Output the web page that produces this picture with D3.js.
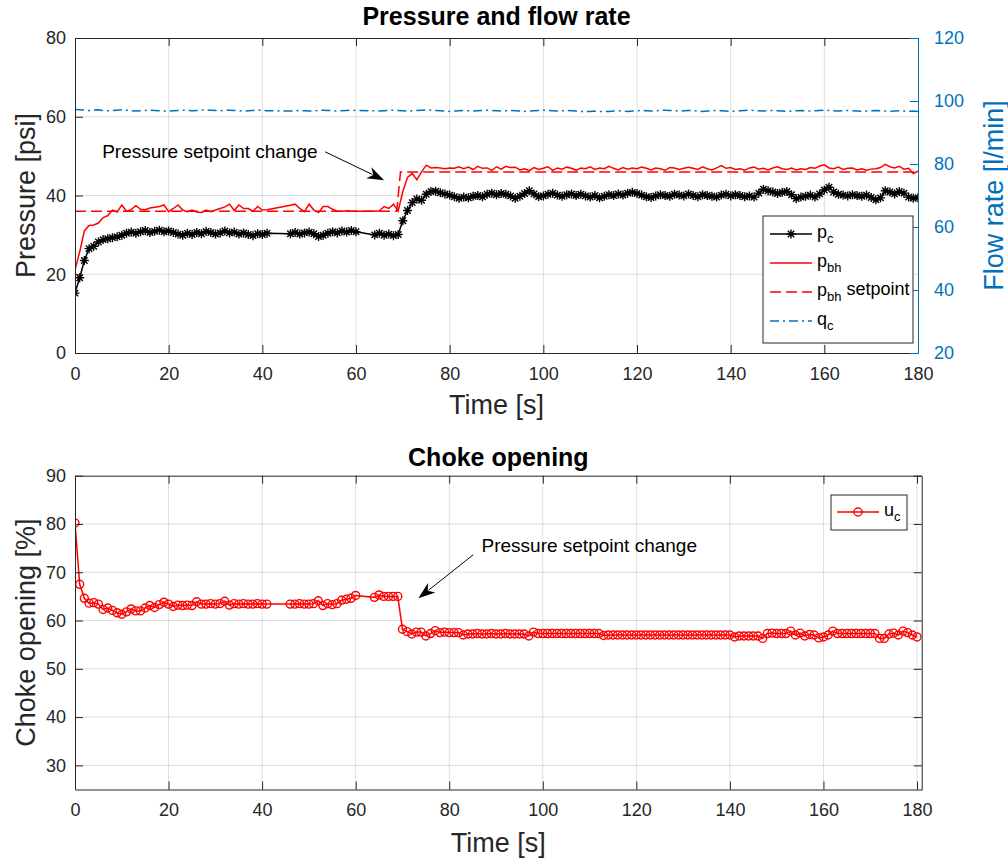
<!DOCTYPE html>
<html>
<head>
<meta charset="utf-8">
<script src="https://cdn.jsdelivr.net/npm/d3@7"></script>
<style>
  body { margin: 0; background: #fff; }
  text { font-family: "Liberation Sans", Arial, Helvetica, sans-serif; }
</style>
</head>
<body>
<div id="chart"></div>
<script>
// sample times [s] (logging has two short gaps)
const time = [
  0,1,2,3,4,5,6,7,8,9, 10,11,12,13,14,15,16,17,18,19, 20,21,22,23,24,25,26,27,28,29,
  30,31,32,33,34,35,36,37,38,39, 40,41,
  46,47,48,49,50,51,52,53,54,55, 56,57,58,59,60,
  64,65,66,67,68,69,70,71,72,73, 74,75,76,77,78,79,80,81,82,83,
  84,85,86,87,88,89,90,91,92,93, 94,95,96,97,98,99,100,101,102,103,
  104,105,106,107,108,109,110,111,112,113, 114,115,116,117,118,119,120,121,122,123,
  124,125,126,127,128,129,130,131,132,133, 134,135,136,137,138,139,140,141,142,143,
  144,145,146,147,148,149,150,151,152,153, 154,155,156,157,158,159,160,161,162,163,
  164,165,166,167,168,169,170,171,172,173, 174,175,176,177,178,179,180
];

// choke pressure p_c [psi]
const pc = [
  15.2,19.1,23.5,26.5,27.1,28.2,28.8,29.0,29.3,29.5, 29.9,30.4,30.7,30.4,30.8,31.1,30.6,30.9,31.2,30.8,
  31.0,30.6,30.2,29.9,30.4,30.1,30.6,30.3,30.9,30.6, 30.2,30.5,31.0,30.5,30.7,30.2,30.5,30.1,29.8,30.3,
  30.1,30.4,
  30.3,30.6,30.2,30.5,30.7,30.3,29.6,29.9,30.4,30.8, 30.5,31.0,30.7,31.1,30.8,
  30.0,30.4,29.9,30.2,29.8,30.1,33.6,36.2,38.2,39.1, 38.8,40.3,41.0,41.1,40.7,40.4,40.1,39.7,39.3,39.6,
  39.4,39.8,40.0,39.7,40.3,40.6,40.2,40.5,40.3,39.9, 39.3,39.8,40.5,41.2,40.4,39.7,39.9,40.3,40.6,40.1,
  39.8,40.2,40.4,40.0,40.3,39.9,39.6,40.0,39.4,39.8, 40.2,40.0,40.4,40.1,40.6,40.8,40.5,40.1,39.7,39.5,
  39.9,40.2,40.0,39.8,40.3,40.1,39.9,40.4,40.0,39.7, 40.2,40.0,39.8,39.6,40.1,40.3,39.9,40.2,40.0,39.7,
  39.9,39.6,40.6,41.6,41.2,40.9,40.5,40.8,41.0,40.2, 39.2,39.6,39.8,40.1,39.6,40.4,41.4,42.1,40.9,40.3,
  40.1,39.9,40.2,40.0,39.8,40.1,39.5,38.9,39.4,41.2, 40.9,40.4,41.0,40.6,39.6,39.3,39.4
];

// bottom-hole pressure p_bh [psi]
const pbh = [
  21.1,25.7,31.0,32.4,32.5,33.0,34.4,34.9,36.3,35.8, 37.6,36.0,36.4,37.4,36.5,36.4,36.8,37.0,37.2,37.6,
  35.9,36.7,37.6,36.3,35.9,36.3,35.8,35.7,36.3,35.9, 36.3,36.7,37.1,37.8,36.2,37.6,36.7,36.7,36.0,37.2,
  36.3,36.4,
  37.5,37.8,36.7,35.9,37.8,36.3,35.7,37.2,37.2,36.5, 36.0,36.0,36.1,36.0,36.0,
  36.0,36.1,37.2,36.7,37.8,36.0,41.0,44.6,45.6,44.0, 46.0,47.7,47.0,47.1,47.0,46.8,47.0,46.9,47.3,46.8,
  47.2,46.6,47.4,46.9,47.0,46.4,47.3,46.7,47.4,47.1, 47.2,46.5,46.8,46.3,47.1,46.6,46.9,47.3,46.4,47.0,
  46.7,47.2,46.9,46.4,47.0,46.8,47.3,46.6,47.0,46.8, 47.4,46.9,46.5,47.1,46.7,47.0,46.8,47.2,46.9,46.5,
  47.0,46.8,46.4,47.1,47.0,46.6,46.9,47.2,46.9,46.6, 47.3,46.8,46.5,47.0,47.6,46.9,47.1,46.6,46.8,46.4,
  47.0,47.2,46.7,46.9,46.5,47.0,47.3,46.8,46.6,47.0, 46.5,46.8,46.6,47.1,46.9,47.5,47.8,47.0,46.8,47.2,
  46.6,46.9,47.0,46.5,46.8,46.4,46.7,46.8,47.1,47.9, 47.3,47.0,47.4,46.7,46.9,45.6,46.2
];

// p_bh setpoint [psi]
const spTime  = [0, 68.7, 69.5, 180];
const spValue = [36, 36, 46, 46];

// flow rate q_c [l/min]
const qc = [
  97.3,97.2,97.1,97.0,97.1,97.2,97.0,96.9,97.0,97.1, 97.2,97.1,96.9,96.8,96.9,97.0,97.1,97.0,96.9,96.8,
  96.8,96.9,97.0,97.1,97.0,96.9,97.0,97.1,97.2,97.1, 97.0,96.9,97.0,97.1,97.0,96.9,96.8,96.9,97.0,97.1,
  97.0,96.9,
  96.8,96.9,97.0,96.9,96.8,96.9,97.0,97.1,97.0,96.9, 96.8,96.9,97.0,97.1,97.0,
  96.9,96.8,96.9,97.0,97.1,97.0,96.9,96.8,96.9,97.0, 97.1,97.2,97.1,97.0,96.9,96.8,96.7,96.8,96.9,97.0,
  96.9,96.8,96.9,97.0,97.1,97.0,96.9,96.8,96.9,97.0, 96.9,96.8,96.7,96.8,96.9,97.0,97.1,97.0,96.9,96.8,
  96.9,97.0,96.9,96.8,96.7,96.6,96.7,96.8,96.7,96.6, 96.7,96.8,96.9,96.8,96.7,96.8,96.9,97.0,96.9,96.8,
  96.9,97.0,97.1,97.0,96.9,96.8,96.9,97.0,96.9,96.8, 96.7,96.8,96.9,97.0,96.9,96.8,96.7,96.8,96.9,97.0,
  97.1,97.0,96.9,96.8,96.9,97.0,96.9,96.8,96.7,96.8, 96.9,97.0,96.9,96.8,96.9,97.0,97.1,97.0,96.9,96.8,
  96.9,97.0,96.9,96.8,96.7,96.8,96.9,97.0,96.9,96.8, 96.7,96.8,96.9,96.8,96.7,96.8,96.7
];

// choke opening u_c [%]
const uc = [
  80.2,67.5,64.6,63.6,63.7,63.4,62.3,62.6,62.1,61.6, 61.3,61.8,62.4,62.0,62.0,62.6,63.1,62.7,63.3,63.8,
  63.4,62.9,63.2,63.1,63.2,63.1,63.9,63.4,63.4,63.5, 63.4,63.5,64.0,63.2,63.5,63.4,63.5,63.4,63.4,63.5,
  63.4,63.4,
  63.4,63.4,63.5,63.4,63.4,63.5,64.1,63.1,63.5,63.3, 63.5,64.2,64.4,64.6,65.2,
  64.8,65.3,65.0,65.0,65.0,65.0,58.2,57.7,57.2,57.6, 57.6,56.8,57.3,57.9,57.5,57.6,57.5,57.5,57.5,57.0,
  57.2,57.2,57.3,57.2,57.2,57.3,57.2,57.2,57.3,57.2, 57.2,57.2,57.2,56.8,57.6,57.3,57.3,57.3,57.3,57.3,
  57.3,57.3,57.3,57.3,57.3,57.3,57.3,57.3,57.3,56.9, 57.0,57.0,57.0,57.0,57.0,57.0,57.0,57.0,57.0,57.0,
  57.0,57.0,57.0,57.0,57.0,57.0,57.0,57.0,57.0,57.0, 57.0,57.0,57.0,57.0,57.0,57.0,57.0,56.6,56.8,56.8,
  56.8,56.8,56.8,56.3,57.3,57.4,57.3,57.3,57.3,57.8, 57.0,57.4,56.8,57.1,57.0,56.4,56.6,57.0,57.8,57.3,
  57.3,57.3,57.3,57.3,57.3,57.3,57.3,57.3,56.3,56.3, 57.2,57.4,57.0,57.8,57.5,57.0,56.6
];

const xTicks      = [0, 20, 40, 60, 80, 100, 120, 140, 160, 180];
const pressTicks  = [0, 20, 40, 60, 80];
const flowTicks   = [20, 40, 60, 80, 100, 120];
const chokeTicks  = [30, 40, 50, 60, 70, 80, 90];

const W = 1008, H = 861;
const ink = '#262626', blue = '#0072BD', red = '#FF0000';
const tickFont = 18, labelFont = 27, titleFont = 25;

const svg = d3.select('#chart').append('svg')
  .attr('width', W).attr('height', H)
  .attr('viewBox', [0, 0, W, H]);
svg.append('rect').attr('width', W).attr('height', H).attr('fill', '#fff');
const defs = svg.append('defs');

/* ─── scales ───────────────────────────────────────────────── */
const P1 = { l: 75, r: 918, t: 38, b: 353 };
const P2 = { l: 75, r: 921.7, t: 475.7, b: 789.5 };

const x1 = d3.scaleLinear().domain([0, 180]).range([P1.l, P1.r]);
const yP = d3.scaleLinear().domain([0, 80]).range([P1.b, P1.t]);
const yQ = d3.scaleLinear().domain([20, 120]).range([P1.b, P1.t]);
const x2 = d3.scaleLinear().domain([0, 181]).range([P2.l, P2.r]);
const yU = d3.scaleLinear().domain([25, 90]).range([P2.b, P2.t]);

const asterisk = 'M-4.5,0L4.5,0M0,-4.5L0,4.5M-3.2,-3.2L3.2,3.2M-3.2,3.2L3.2,-3.2';

function clip(id, P) {
  defs.append('clipPath').attr('id', id)
    .append('rect').attr('x', P.l).attr('y', P.t)
    .attr('width', P.r - P.l).attr('height', P.b - P.t);
}
clip('clip1', P1);
clip('clip2', P2);

function grid(P, x, y, yt) {
  const g = svg.append('g').attr('stroke', ink).attr('stroke-opacity', 0.15).attr('stroke-width', 1);
  g.selectAll('.gx').data(xTicks.filter(d => x(d) > P.l + 1 && x(d) < P.r - 1)).join('line')
    .attr('x1', d => x(d)).attr('x2', d => x(d)).attr('y1', P.t).attr('y2', P.b);
  g.selectAll('.gy').data(yt.filter(d => y(d) > P.t + 1 && y(d) < P.b - 1)).join('line')
    .attr('y1', d => y(d)).attr('y2', d => y(d)).attr('x1', P.l).attr('x2', P.r);
}

function styleAxis(g, color) {
  g.attr('font-size', tickFont).attr('font-family', '"Liberation Sans", Arial, sans-serif');
  g.selectAll('path.domain').attr('stroke', color).attr('stroke-width', 1);
  g.selectAll('.tick line').attr('stroke', color).attr('stroke-width', 1);
  g.selectAll('.tick text').attr('fill', color);
}

function frame(P, x, y, yt, rightColor, yRight, ytRight) {
  styleAxis(svg.append('g').attr('transform', `translate(0,${P.b})`)
    .call(d3.axisBottom(x).tickValues(xTicks).tickSize(-8).tickSizeOuter(0).tickPadding(14).tickFormat(d3.format('d'))), ink);
  styleAxis(svg.append('g').attr('transform', `translate(0,${P.t})`)
    .call(d3.axisTop(x).tickValues(xTicks).tickSize(-8).tickSizeOuter(0).tickFormat('')), ink);
  styleAxis(svg.append('g').attr('transform', `translate(${P.l},0)`)
    .call(d3.axisLeft(y).tickValues(yt).tickSize(-8).tickSizeOuter(0).tickPadding(9).tickFormat(d3.format('d'))), ink);
  if (yRight) {
    styleAxis(svg.append('g').attr('transform', `translate(${P.r},0)`)
      .call(d3.axisRight(yRight).tickValues(ytRight).tickSize(-8).tickSizeOuter(0).tickPadding(16).tickFormat(d3.format('d'))), rightColor);
  } else {
    styleAxis(svg.append('g').attr('transform', `translate(${P.r},0)`)
      .call(d3.axisRight(y).tickValues(yt).tickSize(-8).tickSizeOuter(0).tickFormat('')), rightColor);
  }
}

function subText(sel, parts) {
  parts.forEach(([txt, sub], i) => {
    const t = sel.append('tspan').text(txt);
    if (sub) t.attr('font-size', '0.72em').attr('dy', '0.4em');
    else if (i > 0) t.attr('dy', '-0.3em');
  });
}

/* ─── top panel: pressures & flow ─────────────────────────── */
grid(P1, x1, yP, pressTicks);

const topG = svg.append('g').attr('clip-path', 'url(#clip1)');
const rowsTop = d3.range(time.length).map(i => ({ t: time[i], pc: pc[i], pbh: pbh[i], qc: qc[i] }));

topG.append('path').datum(rowsTop)
  .attr('fill', 'none').attr('stroke', blue).attr('stroke-width', 1.5)
  .attr('stroke-dasharray', '9,4,2,4')
  .attr('d', d3.line().x(d => x1(d.t)).y(d => yQ(d.qc)));

topG.append('path').datum(d3.zip(spTime, spValue))
  .attr('fill', 'none').attr('stroke', red).attr('stroke-width', 1.5)
  .attr('stroke-dasharray', '11,5')
  .attr('d', d3.line().x(d => x1(d[0])).y(d => yP(d[1])));

topG.append('path').datum(rowsTop)
  .attr('fill', 'none').attr('stroke', red).attr('stroke-width', 1.5)
  .attr('d', d3.line().x(d => x1(d.t)).y(d => yP(d.pbh)));

topG.append('path').datum(rowsTop)
  .attr('fill', 'none').attr('stroke', '#000').attr('stroke-width', 1.5)
  .attr('d', d3.line().x(d => x1(d.t)).y(d => yP(d.pc)));

topG.selectAll('path.star').data(rowsTop).join('path')
  .attr('class', 'star')
  .attr('transform', d => `translate(${x1(d.t)},${yP(d.pc)})`)
  .attr('d', asterisk).attr('stroke', '#000').attr('stroke-width', 1.4).attr('fill', 'none');

frame(P1, x1, yP, pressTicks, blue, yQ, flowTicks);

svg.append('text').attr('x', (P1.l + P1.r) / 2).attr('y', 25)
  .attr('text-anchor', 'middle').attr('font-weight', 'bold').attr('font-size', titleFont)
  .attr('fill', '#000').text('Pressure and flow rate');
svg.append('text').attr('x', (P1.l + P1.r) / 2).attr('y', 414)
  .attr('text-anchor', 'middle').attr('font-size', labelFont).attr('fill', ink).text('Time [s]');
svg.append('text').attr('transform', `translate(35,${(P1.t + P1.b) / 2}) rotate(-90)`)
  .attr('text-anchor', 'middle').attr('font-size', labelFont).attr('fill', ink).text('Pressure [psi]');
svg.append('text').attr('transform', `translate(1003,${(P1.t + P1.b) / 2}) rotate(-90)`)
  .attr('text-anchor', 'middle').attr('font-size', labelFont).attr('fill', blue).text('Flow rate [l/min]');

// annotation (data coordinates)
const note1 = { text: [5.8, 51.1], from: [53.4, 51.1], to: [66.0, 43.9] };
function arrow(ax, ay, n) {
  const x0 = ax(n.from[0]), y0 = ay(n.from[1]), x9 = ax(n.to[0]), y9 = ay(n.to[1]);
  const a = Math.atan2(y9 - y0, x9 - x0), L = 17, Wd = 6;
  const bx = x9 - L * Math.cos(a), by = y9 - L * Math.sin(a);
  svg.append('line').attr('x1', x0).attr('y1', y0).attr('x2', bx + 4 * Math.cos(a)).attr('y2', by + 4 * Math.sin(a))
    .attr('stroke', '#000').attr('stroke-width', 1);
  const nx = -Math.sin(a), ny = Math.cos(a);
  const mx = x9 - (L - 5) * Math.cos(a), my = y9 - (L - 5) * Math.sin(a);
  svg.append('path')
    .attr('d', `M${x9},${y9}L${bx + Wd * nx},${by + Wd * ny}L${mx},${my}L${bx - Wd * nx},${by - Wd * ny}Z`)
    .attr('fill', '#000');
  svg.append('text').attr('x', ax(n.text[0])).attr('y', ay(n.text[1]))
    .attr('dy', '0.35em').attr('font-size', 19).attr('fill', '#000').text('Pressure setpoint change');
}
arrow(x1, yP, note1);

// legend (top)
const lg1 = svg.append('g').attr('transform', 'translate(763,216)');
lg1.append('rect').attr('width', 150).attr('height', 127)
  .attr('fill', '#fff').attr('stroke', ink).attr('stroke-width', 1);
const legendTop = [
  { parts: [['p'], ['c', true]], stroke: '#000', dash: null, marker: true },
  { parts: [['p'], ['bh', true]], stroke: red, dash: null },
  { parts: [['p'], ['bh', true], [' setpoint']], stroke: red, dash: '11,5' },
  { parts: [['q'], ['c', true]], stroke: blue, dash: '9,4,2,4' }
];
legendTop.forEach((e, i) => {
  const yy = 18 + i * 29;
  lg1.append('line').attr('x1', 7).attr('x2', 49).attr('y1', yy).attr('y2', yy)
    .attr('stroke', e.stroke).attr('stroke-width', 1.5).attr('stroke-dasharray', e.dash);
  if (e.marker) lg1.append('path').attr('transform', `translate(28,${yy})`).attr('d', asterisk)
    .attr('stroke', '#000').attr('stroke-width', 1.4);
  const t = lg1.append('text').attr('x', 54).attr('y', yy).attr('dy', '0.2em')
    .attr('font-size', 18).attr('fill', '#000');
  subText(t, e.parts);
});

/* ─── bottom panel: choke opening ─────────────────────────── */
grid(P2, x2, yU, chokeTicks);

const botG = svg.append('g').attr('clip-path', 'url(#clip2)');
const rowsBot = d3.zip(time, uc);
botG.append('path').datum(rowsBot)
  .attr('fill', 'none').attr('stroke', red).attr('stroke-width', 1.5)
  .attr('d', d3.line().x(d => x2(d[0])).y(d => yU(d[1])));
botG.selectAll('circle').data(rowsBot).join('circle')
  .attr('cx', d => x2(d[0])).attr('cy', d => yU(d[1])).attr('r', 4)
  .attr('fill', 'none').attr('stroke', red).attr('stroke-width', 1.4);

frame(P2, x2, yU, chokeTicks, ink, null, null);

svg.append('text').attr('x', (P2.l + P2.r) / 2).attr('y', 466)
  .attr('text-anchor', 'middle').attr('font-weight', 'bold').attr('font-size', titleFont)
  .attr('fill', '#000').text('Choke opening');
svg.append('text').attr('x', (P2.l + P2.r) / 2).attr('y', 852)
  .attr('text-anchor', 'middle').attr('font-size', labelFont).attr('fill', ink).text('Time [s]');
svg.append('text').attr('transform', `translate(35,${(P2.t + P2.b) / 2}) rotate(-90)`)
  .attr('text-anchor', 'middle').attr('font-size', labelFont).attr('fill', ink).text('Choke opening [%]');

const note2 = { text: [86.9, 75.65], from: [85.1, 73.6], to: [73.4, 64.6] };
arrow(x2, yU, note2);

// legend (bottom)
const lg2 = svg.append('g').attr('transform', 'translate(831,495)');
lg2.append('rect').attr('width', 76).attr('height', 35)
  .attr('fill', '#fff').attr('stroke', ink).attr('stroke-width', 1);
lg2.append('line').attr('x1', 6).attr('x2', 48).attr('y1', 17).attr('y2', 17)
  .attr('stroke', red).attr('stroke-width', 1.5);
lg2.append('circle').attr('cx', 27).attr('cy', 17).attr('r', 4)
  .attr('fill', 'none').attr('stroke', red).attr('stroke-width', 1.4);
subText(lg2.append('text').attr('x', 53).attr('y', 17).attr('dy', '0.2em')
  .attr('font-size', 18).attr('fill', '#000'), [['u'], ['c', true]]);
</script>
</body>
</html>
